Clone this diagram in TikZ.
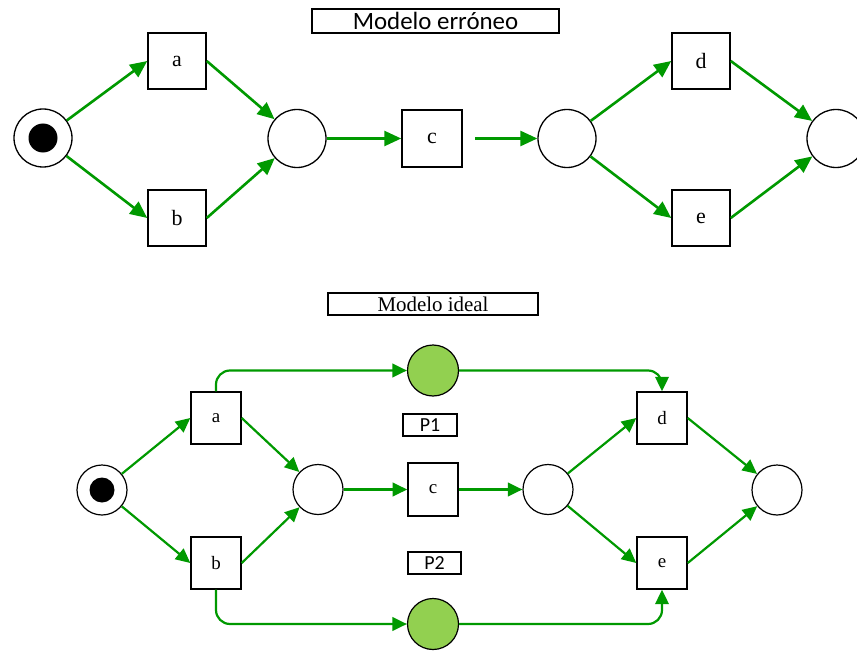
\documentclass[tikz,border=0pt]{standalone}
\usepackage{fontspec}
\setmainfont{Liberation Serif}
\newfontfamily\calib{Carlito}
\usetikzlibrary{arrows.meta}
\definecolor{arrowgreen}{RGB}{0,153,0}
\definecolor{placegreen}{RGB}{146,208,80}
\tikzset{
  placeT/.style={circle,draw=black,line width=1.3bp,minimum size=58bp,inner sep=0pt,fill=white},
  transT/.style={rectangle,draw=black,line width=1.5bp,minimum width=58bp,minimum height=56bp,inner sep=0pt,font=\fontsize{22}{22}\selectfont},
  arcT/.style={draw=arrowgreen,line width=2.6bp,-{Triangle[length=17bp,width=15bp]}},
  placeB/.style={circle,draw=black,line width=1.2bp,minimum size=50bp,inner sep=0pt,fill=white},
  placeG/.style={placeB,fill=placegreen},
  transB/.style={rectangle,draw=black,line width=1.4bp,minimum width=50bp,minimum height=52bp,inner sep=0pt,font=\fontsize{19}{19}\selectfont},
  arcB/.style={draw=arrowgreen,line width=2.2bp,-{Triangle[length=14.5bp,width=13.5bp]},rounded corners=14bp},
  token/.style={circle,fill=black,inner sep=0pt},
  titlebox/.style={rectangle,draw=black,line width=1.2bp,inner sep=0pt},
}
\begin{document}
\begin{tikzpicture}[x=1bp,y=-1bp]
\useasboundingbox (0,0) rectangle (857,652);
% ---------- top: Modelo erroneo ----------
\node[titlebox,minimum width=247bp,minimum height=24bp,font=\calib\fontsize{25}{25}\selectfont] (t1) at (435.5,21) {Modelo erróneo};
\node[placeT] (s) at (43,138) {};
\node[token,minimum size=29bp] (stok) at (43,138) {};
\node[transT] (a) at (177,61) {a};
\node[transT] (b) at (177,218) {b};
\node[placeT] (m1) at (297,138.5) {};
\node[transT,minimum width=60bp,minimum height=57bp] (c) at (432,138.5) {c};
\coordinate (cgap) at (475,138.5);
\node[placeT] (m2) at (567,138.5) {};
\node[transT] (d) at (701,61) {d};
\node[transT] (e) at (701,218) {e};
\node[placeT] (f) at (836,138.5) {};
\draw[arcT] (s) -- (a.west);
\draw[arcT] (s) -- (b.west);
\draw[arcT] (a.east) -- (m1);
\draw[arcT] (b.east) -- (m1);
\draw[arcT] (m1) -- (c);
\draw[arcT] (cgap) -- (m2);
\draw[arcT] (m2) -- (d.west);
\draw[arcT] (m2) -- (e.west);
\draw[arcT] (d.east) -- (f);
\draw[arcT] (e.east) -- (f);
% ---------- bottom: Modelo ideal ----------
\node[titlebox,minimum width=210bp,minimum height=22bp,font=\fontsize{21}{21}\selectfont] (t2) at (433,304) {Modelo ideal};
\node[placeB] (s2) at (102,490) {};
\node[token,minimum size=25bp] (stok2) at (102,490) {};
\node[transB] (a2) at (216,418) {a};
\node[transB] (b2) at (216,563) {b};
\node[placeB] (m3) at (318,489.5) {};
\node[transB,line width=1.6bp,minimum height=53bp] (c2) at (433,489.5) {c};
\node[placeB] (m4) at (548,489.5) {};
\node[transB] (d2) at (662,418) {d};
\node[transB] (e2) at (662,563) {e};
\node[placeB] (f2) at (777,490) {};
\node[placeG,minimum size=51bp] (g1) at (433,370.5) {};
\node[placeG,minimum size=51bp] (g2) at (433,624) {};
\node[titlebox,line width=1.1bp,minimum width=54bp,minimum height=22bp,font=\calib\fontsize{20}{20}\selectfont] (p1) at (430,425) {P1};
\node[titlebox,line width=1.1bp,minimum width=53bp,minimum height=22bp,font=\calib\fontsize{20}{20}\selectfont] (p2) at (434.5,563) {P2};
\draw[arcB] (s2) -- (a2.west);
\draw[arcB] (s2) -- (b2.west);
\draw[arcB] (a2.east) -- (m3);
\draw[arcB] (b2.east) -- (m3);
\draw[arcB] (m3) -- (c2);
\draw[arcB] (c2) -- (m4);
\draw[arcB] (m4) -- (d2.west);
\draw[arcB] (m4) -- (e2.west);
\draw[arcB] (d2.east) -- (f2);
\draw[arcB] (e2.east) -- (f2);
\draw[arcB] (a2.north) |- (g1.west);
\draw[arcB] (g1.east) -| (d2.north);
\draw[arcB] (b2.south) |- (g2.west);
\draw[arcB] (g2.east) -| (e2.south);
\end{tikzpicture}
\end{document}
